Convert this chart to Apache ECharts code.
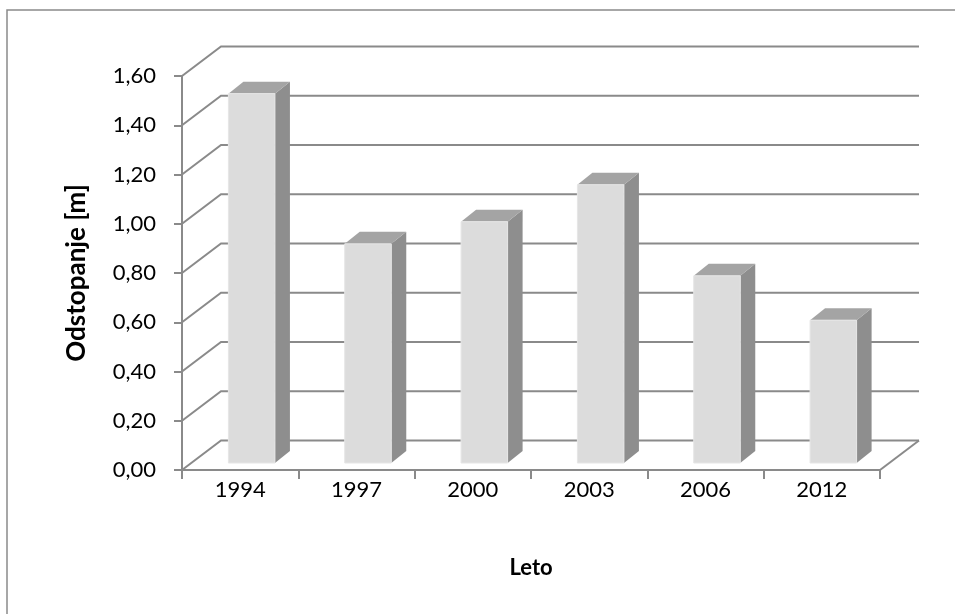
<!DOCTYPE html>
<html>
<head>
<meta charset="utf-8">
<script src="https://cdn.jsdelivr.net/npm/echarts@6/dist/echarts.min.js"></script>
<style>
  html, body { margin: 0; padding: 0; background: #fff; }
  #chart { width: 955px; height: 614px; }
</style>
</head>
<body>
<div id="chart"></div>
<script>
// Years on the category axis
const years = ['1994', '1997', '2000', '2003', '2006', '2012'];
// Deviation per year, metres
const deviation = [1.50, 0.89, 0.98, 1.13, 0.76, 0.58];
// Value axis ticks
const yTicks = [0, 0.2, 0.4, 0.6, 0.8, 1.0, 1.2, 1.4, 1.6];

const yTitle = 'Odstopanje [m]';
const xTitle = 'Leto';

const FONT = 'Lato, "Open Sans", sans-serif';
const LINE = '#8a8a8a';

// Oblique depth of the floor/walls and of each bar block
const WALL_DX = 39, WALL_DY = -29.5;
const BAR_OFF_X = 11.5, BAR_OFF_Y = -7;
const BAR_DX = 15, BAR_DY = -12;

const fmt = v => v.toFixed(2).replace('.', ',');

const chart = echarts.init(document.getElementById('chart'));

chart.setOption({
  animation: false,
  backgroundColor: '#ffffff',
  graphic: [{
    type: 'rect',
    shape: { x: 7, y: 10, width: 1000, height: 700 },
    style: { fill: 'none', stroke: LINE, lineWidth: 1.5 },
    silent: true,
    z: 0
  }],
  grid: { left: 182, right: 75, top: 76, bottom: 144 },
  xAxis: {
    type: 'category',
    data: years,
    boundaryGap: true,
    name: xTitle,
    nameLocation: 'middle',
    nameGap: 87,
    nameTextStyle: { fontFamily: FONT, fontSize: 22, fontWeight: 'bold', color: '#000' },
    axisLine: { show: true, lineStyle: { color: LINE, width: 2 } },
    axisTick: { show: true, interval: 0, length: 9, lineStyle: { color: LINE, width: 2 } },
    axisLabel: { margin: 9, fontFamily: FONT, fontSize: 22, color: '#000' },
    splitLine: { show: false },
    z: 5
  },
  yAxis: {
    type: 'value',
    min: 0,
    max: 1.6,
    interval: 0.2,
    name: yTitle,
    nameLocation: 'middle',
    nameRotate: 90,
    nameGap: 92,
    nameTextStyle: { fontFamily: FONT, fontSize: 26, fontWeight: 'bold', color: '#000' },
    axisLine: { show: true, lineStyle: { color: LINE, width: 2 } },
    axisTick: { show: true, length: 8, lineStyle: { color: LINE, width: 2 } },
    axisLabel: { margin: 26, fontFamily: FONT, fontSize: 22, color: '#000', formatter: fmt },
    splitLine: { show: false },
    z: 5
  },
  series: [
    {
      // Side wall, back wall gridlines and floor
      type: 'custom',
      name: 'walls',
      silent: true,
      z: 1,
      data: yTicks.map(v => [0, v]),
      renderItem: function (params, api) {
        const cs = params.coordSys;
        const y = api.coord([0, api.value(1)])[1];
        const x0 = cs.x, x1 = cs.x + cs.width;
        const children = [{
          type: 'polyline',
          shape: { points: [[x0, y], [x0 + WALL_DX, y + WALL_DY], [x1 + WALL_DX, y + WALL_DY]] },
          style: { stroke: LINE, lineWidth: 2, fill: 'none' }
        }];
        if (api.value(1) === 0) {
          children.push({
            type: 'line',
            shape: { x1: x1, y1: y, x2: x1 + WALL_DX, y2: y + WALL_DY },
            style: { stroke: LINE, lineWidth: 2 }
          });
        }
        return { type: 'group', children: children };
      }
    },
    {
      // 3D bar blocks
      type: 'custom',
      name: 'Odstopanje',
      z: 3,
      data: deviation.map((v, i) => [i, v]),
      renderItem: function (params, api) {
        const i = api.value(0), v = api.value(1);
        const top = api.coord([i, v]);
        const base = api.coord([i, 0]);
        const w = api.size([1, 0])[0] * 0.4;
        const xl = top[0] - w / 2 + BAR_OFF_X;
        const xr = top[0] + w / 2 + BAR_OFF_X;
        const yt = top[1] + BAR_OFF_Y;
        const yb = base[1] + BAR_OFF_Y;
        return {
          type: 'group',
          children: [
            {
              type: 'polygon',
              shape: { points: [[xr, yt], [xr + BAR_DX, yt + BAR_DY], [xr + BAR_DX, yb + BAR_DY], [xr, yb]] },
              style: { fill: '#8e8e8e' }
            },
            {
              type: 'polygon',
              shape: { points: [[xl, yt], [xl + BAR_DX, yt + BAR_DY], [xr + BAR_DX, yt + BAR_DY], [xr, yt]] },
              style: { fill: '#a4a4a4' }
            },
            {
              type: 'rect',
              shape: { x: xl, y: yt, width: xr - xl, height: yb - yt },
              style: { fill: '#dcdcdc', stroke: '#e6e6e6', lineWidth: 1 }
            }
          ]
        };
      }
    }
  ]
});
</script>
</body>
</html>
